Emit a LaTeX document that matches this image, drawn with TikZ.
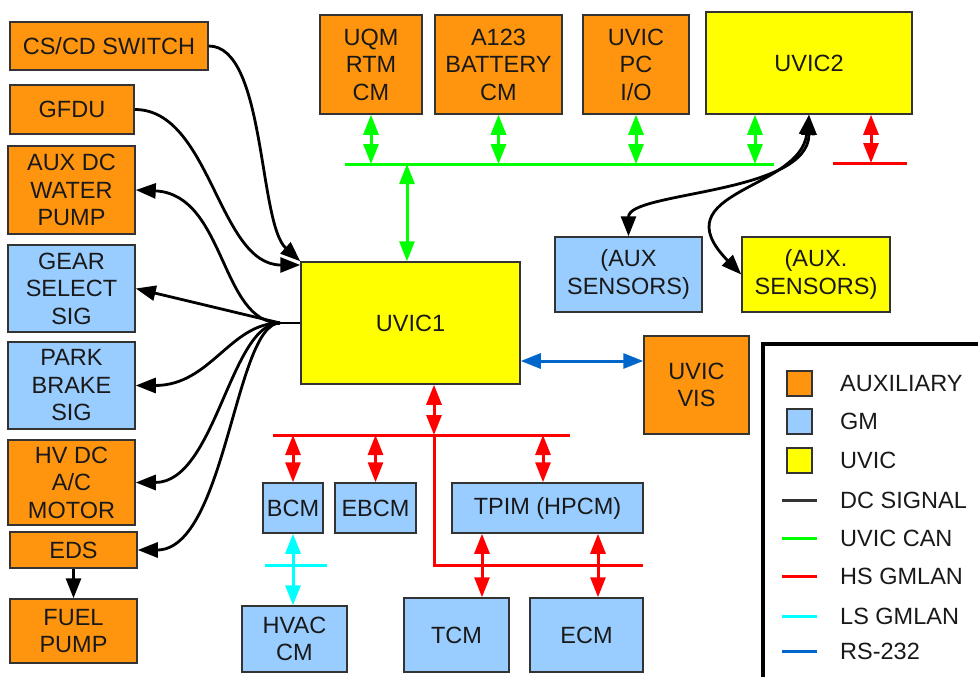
\documentclass[tikz,border=0pt]{standalone}
\usepackage{fontspec}
\setmainfont{Liberation Sans}
\usetikzlibrary{arrows.meta,positioning}

\definecolor{auxorange}{HTML}{FF950E}
\definecolor{gmblue}{HTML}{99CCFF}
\definecolor{uvicyellow}{HTML}{FFFF00}
\definecolor{cangreen}{HTML}{00FF00}
\definecolor{hsred}{HTML}{FF0000}
\definecolor{lscyan}{HTML}{00FFFF}
\definecolor{rsblue}{HTML}{0066CC}
\definecolor{edgegray}{HTML}{333333}

\begin{document}
\begin{tikzpicture}[x=1pt, y=-1pt,
    every node/.style={font=\fontsize{23.5}{27.5}\selectfont, align=center, inner sep=0pt, text=black!90},
    box/.style={draw=edgegray, line width=1.5pt},
    aux/.style={box, fill=auxorange},
    gm/.style={box, fill=gmblue},
    uvic/.style={box, fill=uvicyellow},
    >={Triangle[length=20pt,width=15pt]},
    arr/.style={->, line width=2.8pt},
    sig/.style={<->, line width=2.8pt},
    can/.style={cangreen, line width=3pt},
    hs/.style={hsred, line width=3pt},
    ls/.style={lscyan, line width=3pt},
    rs/.style={rsblue, line width=3pt}
]
\useasboundingbox (0,0) rectangle (978,677);

% Left column — DC signal devices
\node[aux, minimum width=198pt, minimum height=48pt] (cscd) at (109,46)    {CS/CD SWITCH};
\node[aux, minimum width=124pt, minimum height=49pt] (gfdu) at (72,109.5)  {GFDU};
\node[aux, minimum width=127pt, minimum height=88pt] (pump) at (71.5,190)  {AUX DC\\WATER\\PUMP};
\node[gm,  minimum width=127pt, minimum height=87pt] (gear) at (71.5,288.5) {GEAR\\SELECT\\SIG};
\node[gm,  minimum width=127pt, minimum height=87pt] (park) at (71.5,385.5) {PARK\\BRAKE\\SIG};
\node[aux, minimum width=127pt, minimum height=85pt] (hvdc) at (71.5,482.5) {HV DC\\A/C\\MOTOR};
\node[aux, minimum width=127pt, minimum height=36pt] (eds)  at (73.5,550)  {EDS};
\node[aux, minimum width=127pt, minimum height=64pt] (fuel) at (73.5,631)  {FUEL\\PUMP};

% Top row — UVIC CAN nodes
\node[aux,  minimum width=102pt, minimum height=99pt]  (uqm)   at (371,64.5)   {UQM\\RTM\\CM};
\node[aux,  minimum width=127pt, minimum height=99pt]  (a123)  at (498.5,64.5) {A123\\BATTERY\\CM};
\node[aux,  minimum width=106pt, minimum height=99pt]  (pcio)  at (636,64.5)   {UVIC\\PC\\I/O};
\node[uvic, minimum width=206pt, minimum height=102pt] (uvic2) at (809,63)     {UVIC2};

% Middle — main controller, sensors, vision
\node[uvic, minimum width=219pt, minimum height=122pt] (uvic1)  at (410.5,323)  {UVIC1};
\node[gm,   minimum width=147pt, minimum height=75pt]  (sensgm) at (628.5,274.5) {(AUX\\SENSORS)};
\node[uvic, minimum width=148pt, minimum height=75pt]  (sensuv) at (816,274.5)  {(AUX.\\SENSORS)};
\node[aux,  minimum width=105pt, minimum height=98pt]  (vis)    at (696.5,385)  {UVIC\\VIS};

% Bottom — GMLAN modules
\node[gm, minimum width=60pt,  minimum height=50pt] (bcm)  at (293,508)   {BCM};
\node[gm, minimum width=81pt,  minimum height=50pt] (ebcm) at (375.5,508) {EBCM};
\node[gm, minimum width=191pt, minimum height=50pt] (tpim) at (547.5,508) {TPIM (HPCM)};
\node[gm, minimum width=105pt, minimum height=66pt] (hvac) at (294.5,639) {HVAC\\CM};
\node[gm, minimum width=105pt, minimum height=74pt] (tcm)  at (456.5,635) {TCM};
\node[gm, minimum width=113pt, minimum height=74pt] (ecm)  at (586.5,635) {ECM};

% Bus points
\coordinate (canW) at (345,164);
\coordinate (canE) at (774,164);
\coordinate (can1) at (407,164);
\coordinate (can2) at (755,164);
\coordinate (hsW2) at (833,163);
\coordinate (hsE2) at (907,163);
\coordinate (hs2)  at (871,163);
\coordinate (hsW)  at (273,435);
\coordinate (hsE)  at (570,435);
\coordinate (hs1)  at (434,435);
\coordinate (hs3)  at (543,435);
\coordinate (hsL)  at (643,565);
\coordinate (tcmx) at (482,565);
\coordinate (ecmx) at (598,565);
\coordinate (lsW)  at (265,565);
\coordinate (lsE)  at (327,565);
\coordinate (rsy)  at (0,361);
\coordinate (fan)  at (280,323);

% UVIC CAN — green
\draw[can] (canW) -- (canE);
\draw[can, <->] (uqm.south)  -- (uqm.south |- canW);
\draw[can, <->] (a123.south) -- (a123.south |- canW);
\draw[can, <->] (pcio.south) -- (pcio.south |- canW);
\draw[can, <->] (can2 |- uvic2.south) -- (can2);
\draw[can, <->] (can1) -- (can1 |- uvic1.north);

% HS GMLAN — red
\draw[hs] (hsW2) -- (hsE2);
\draw[hs, <->] (hs2 |- uvic2.south) -- (hs2);
\draw[hs] (hsW) -- (hsE);
\draw[hs] (hs1) |- (hsL);
\draw[hs, <->] (hs1 |- uvic1.south) -- (hs1);
\draw[hs, <->] (bcm.north |- hsW) -- (bcm.north);
\draw[hs, <->] (ebcm.north |- hsW) -- (ebcm.north);
\draw[hs, <->] (hs3) -- (hs3 |- tpim.north);
\draw[hs, <->] (tcmx |- tpim.south) -- (tcmx |- tcm.north);
\draw[hs, <->] (ecmx |- tpim.south) -- (ecmx |- ecm.north);

% LS GMLAN — cyan
\draw[ls] (lsW) -- (lsE);
\draw[ls, <->] (bcm.south) -- (bcm.south |- hvac.north);

% RS-232 — blue
\draw[rs, <->] (uvic1.east |- rsy) -- (vis.west |- rsy);

% DC signals — black
\draw[arr] (cscd.east) .. controls +(57,0) and +(-42,-38) .. (uvic1.north west);
\draw[arr] (gfdu.east) .. controls +(76,0) and +(-82,0) .. (uvic1.north west |- 0,265);
\draw[line width=2.8pt] (uvic1.west) -- (fan);
\draw[arr] (fan) .. controls +(-60,0) and +(90,4) .. (pump.east);
\draw[arr] (fan) -- (gear.east);
\draw[arr] (fan) .. controls +(-50,0) and +(75,0) .. (park.east);
\draw[arr] (fan) .. controls +(-50,0) and +(80,0) .. (hvdc.east);
\draw[arr] (fan) .. controls +(-45,0) and +(88,0) .. (eds.east);
\draw[arr] (eds.south) -- (fuel.north);
\draw[sig] (uvic2.south) .. controls +(0,80) and +(0,-45) .. (sensgm.north);
\draw[sig] (uvic2.south) .. controls +(-9,76) and +(-82,-84) .. (sensuv.west);

% Legend
\draw[line width=4pt] (763,344) rectangle (990,690);
\node[aux,  minimum width=25pt, minimum height=25pt] (keyaux)  at (799.5,383.5) {};
\node[gm,   minimum width=25pt, minimum height=25pt] (keygm)   at (799.5,421.5) {};
\node[uvic, minimum width=25pt, minimum height=25pt] (keyuvic) at (799.5,460.5) {};
\node[anchor=west] (keyauxt)  at (840,383.5) {AUXILIARY};
\node[anchor=west] (keygmt)   at (840,421.5) {GM};
\node[anchor=west] (keyuvict) at (840,460.5) {UVIC};
\foreach \y/\c/\t [count=\i] in {500/black!80/DC SIGNAL, 538/cangreen/UVIC CAN,
    576/hsred/HS GMLAN, 616/lscyan/LS GMLAN, 651/rsblue/RS-232}
{
  \draw[\c, line width=3pt] (782,\y) -- (817,\y);
  \node[anchor=west] (keyline\i) at (840,\y) {\t};
}
\end{tikzpicture}
\end{document}
